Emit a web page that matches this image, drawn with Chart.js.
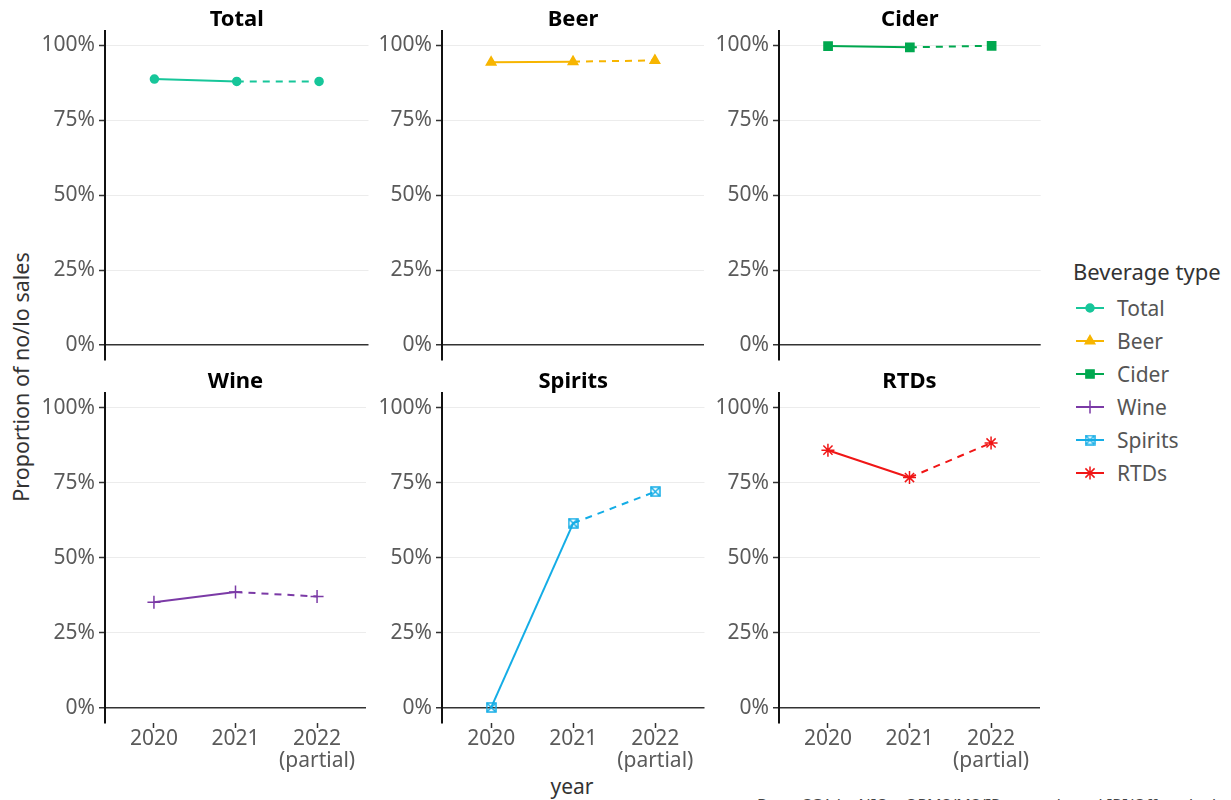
<!DOCTYPE html>
<html>
<head>
<meta charset="utf-8">
<script src="https://cdn.jsdelivr.net/npm/chart.js@4/dist/chart.umd.min.js"></script>
<style>
  body { margin: 0; background: #fff; width: 1231px; height: 800px; overflow: hidden; position: relative; font-family: "Noto Sans", sans-serif; }
  canvas.panel { position: absolute; }
  .txt { position: absolute; white-space: nowrap; color: #333; }
  .legend-item { position: absolute; height: 24px; }
  .legend-item canvas { position: absolute; left: 0; top: 0; }
  .legend-item span { position: absolute; left: 43px; top: 0; line-height: 24px; font-size: 21px; color: #555; }
</style>
</head>
<body>
<div class="txt" style="left:20px; top:377px; font-size:21.5px; transform: translate(-50%, -50%) rotate(-90deg);">Proportion of no/lo sales</div>
<div class="txt" style="left:572px; top:772px; font-size:21px; transform: translateX(-50%);">year</div>
<div class="txt" style="left:1073px; top:256px; font-size:22px; color:#333;">Beverage type</div>
<div class="txt" style="left:757px; top:794px; font-size:16px; color:#444;">Data: CGA by NIQ – OPMS/MS/IR on-trade and IRI/Off-trade data</div>
<div id="legend"></div>

<script>
// data (share of no/lo sales)
const years = ['2020', '2021', ['2022', '(partial)']];
const beverages = ['Total', 'Beer', 'Cider', 'Wine', 'Spirits', 'RTDs'];
const total = [0.888, 0.880, 0.880];
const beer = [0.944, 0.946, 0.950];
const cider = [0.998, 0.994, 0.999];
const wine = [0.352, 0.386, 0.371];
const spirits = [0.002, 0.615, 0.720];
const rtds = [0.858, 0.767, 0.882];
const yTicks = [0, 0.25, 0.5, 0.75, 1];

const seriesValues = [total, beer, cider, wine, spirits, rtds];
const colors = ['#17c69a', '#f7b500', '#00a84f', '#7b3aa6', '#14ade6', '#f01616'];

const FONT = '"Noto Sans", sans-serif';

// square with an x inside, like the ggplot shape used for spirits
function squareCross(color) {
    const c = document.createElement('canvas');
    c.width = 11; c.height = 11;
    const g = c.getContext('2d');
    g.strokeStyle = color;
    g.lineWidth = 1.5;
    g.strokeRect(1, 1, 9, 9);
    g.beginPath();
    g.moveTo(1, 1); g.lineTo(10, 10);
    g.moveTo(10, 1); g.lineTo(1, 10);
    g.stroke();
    return c;
}

const markers = [
    { pointStyle: 'circle', radius: 4 },
    { pointStyle: 'triangle', radius: 5.5 },
    { pointStyle: 'rect', radius: 5.8 },
    { pointStyle: 'cross', radius: 6.5 },
    { pointStyle: squareCross(colors[4]), radius: 5 },
    { pointStyle: 'star', radius: 6.5 }
];

const colLeft = [0, 337, 674];
const rowTop = [0, 362];

beverages.forEach(function (name, i) {
    const row = Math.floor(i / 3);
    const col = i % 3;
    const bottom = row === 1;

    const canvas = document.createElement('canvas');
    canvas.className = 'panel';
    canvas.width = 374;
    canvas.height = bottom ? 421 : 378;
    canvas.style.left = colLeft[col] + 'px';
    canvas.style.top = rowTop[row] + 'px';
    document.body.appendChild(canvas);

    new Chart(canvas, {
        type: 'line',
        data: {
            datasets: [{
                label: name,
                data: seriesValues[i].map((v, k) => ({ x: k, y: v })),
                borderColor: colors[i],
                backgroundColor: colors[i],
                borderWidth: 2,
                pointStyle: markers[i].pointStyle,
                pointRadius: markers[i].radius,
                pointBorderWidth: 1.5,
                tension: 0,
                segment: {
                    borderDash: ctx => ctx.p0DataIndex === 1 ? [7, 6] : undefined
                }
            }]
        },
        options: {
            responsive: false,
            animation: false,
            layout: { padding: { left: 0, right: 5, top: 0, bottom: 0 } },
            plugins: {
                legend: { display: false },
                tooltip: { enabled: false },
                title: {
                    display: true,
                    fullSize: false,
                    text: name,
                    color: '#000',
                    font: { family: FONT, size: 22, weight: 'bold', lineHeight: 1 },
                    padding: { top: 8.5, bottom: 0 }
                }
            },
            scales: {
                x: {
                    type: 'linear',
                    min: -0.6,
                    max: 2.6,
                    afterBuildTicks: s => { s.ticks = [0, 1, 2].map(v => ({ value: v })); },
                    afterFit: s => { s.height = bottom ? 60 : 18; },
                    ticks: {
                        display: bottom,
                        autoSkip: false,
                        maxRotation: 0,
                        padding: 0,
                        color: '#5a5a5a',
                        font: { family: FONT, size: 21, lineHeight: 1.05 },
                        callback: v => years[v]
                    },
                    grid: { display: bottom, drawOnChartArea: false, tickLength: 5, tickColor: '#333', tickWidth: 1.5 },
                    border: { display: false }
                },
                y: {
                    min: -0.05,
                    max: 1.05,
                    afterBuildTicks: s => { s.ticks = yTicks.map(v => ({ value: v })); },
                    afterFit: s => { s.width = 105; },
                    ticks: {
                        padding: 4,
                        color: '#5a5a5a',
                        font: { family: FONT, size: 21 },
                        callback: v => Math.round(v * 100) + '%'
                    },
                    grid: {
                        color: c => (c.tick && c.tick.value === 0) ? '#333' : '#ececec',
                        lineWidth: c => (c.tick && c.tick.value === 0) ? 1.5 : 1,
                        tickColor: '#333',
                        tickLength: 6,
                        tickWidth: 1.5
                    },
                    border: { display: true, color: '#111', width: 2 }
                }
            }
        }
    });
});

// legend on the right
const legend = document.getElementById('legend');
beverages.forEach(function (name, i) {
    const item = document.createElement('div');
    item.className = 'legend-item';
    item.style.left = '1074px';
    item.style.top = (296 + i * 33) + 'px';
    const c = document.createElement('canvas');
    c.width = 32; c.height = 24;
    item.appendChild(c);
    const label = document.createElement('span');
    label.textContent = name;
    item.appendChild(label);
    legend.appendChild(item);

    const g = c.getContext('2d');
    g.strokeStyle = colors[i];
    g.fillStyle = colors[i];
    g.lineWidth = 2;
    g.beginPath();
    g.moveTo(2, 12); g.lineTo(30, 12);
    g.stroke();
    g.lineWidth = 1.5;
    Chart.helpers.drawPoint(g, { pointStyle: markers[i].pointStyle, radius: markers[i].radius, rotation: 0, borderWidth: 1.5 }, 16, 12);
});
</script>
</body>
</html>
